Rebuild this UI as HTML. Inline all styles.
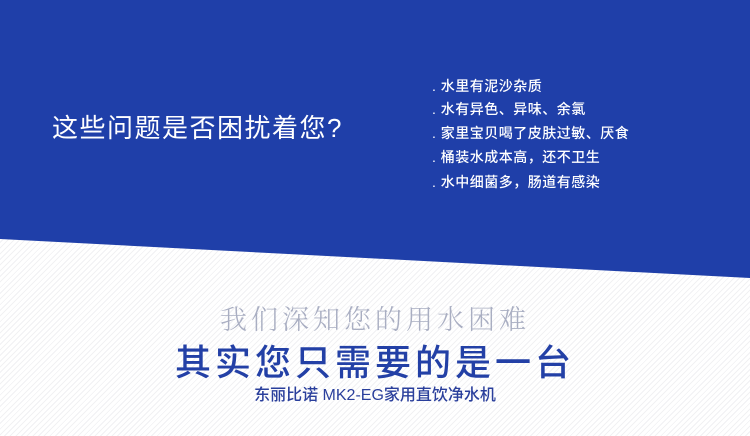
<!DOCTYPE html>
<html><head><meta charset="utf-8">
<style>
html,body{margin:0;padding:0}
body{width:750px;height:436px;position:relative;overflow:hidden;font-family:"Liberation Sans","Noto Sans CJK SC",sans-serif;
background:repeating-linear-gradient(135deg,#ffffff 0 3px,#f1f1f3 3px 4px);}
svg.bg{position:absolute;left:0;top:0}
.t{position:absolute;white-space:nowrap}
#headline{left:52px;top:108px;font-size:26px;color:#fff;letter-spacing:1.5px}
.li{position:absolute;left:432px;font-size:14px;color:#fff;letter-spacing:0.5px;font-weight:500}
.c{left:0;width:750px;text-align:center}
#sub1{top:298px;font-size:27px;color:#a9aec2;letter-spacing:4px;font-weight:300;font-family:"Liberation Serif","Noto Serif CJK SC",serif}
#sub2{top:334px;font-size:36px;color:#2340a6;letter-spacing:4px;font-weight:500}
#sub3{top:381px;font-size:16px;color:#2a3f9c;font-weight:500}
</style></head>
<body>
<svg class="bg" width="750" height="436">
<polygon points="0,0 750,0 750,278 0,239" fill="#1f3fa9"/>
</svg>
<div class="t" id="headline">这些问题是否困扰着您?</div>
<div class="li" style="top:76px">. 水里有泥沙杂质</div>
<div class="li" style="top:99px">. 水有异色、异味、余氯</div>
<div class="li" style="top:123px">. 家里宝贝喝了皮肤过敏、厌食</div>
<div class="li" style="top:147px">. 桶装水成本高，还不卫生</div>
<div class="li" style="top:172px">. 水中细菌多，肠道有感染</div>
<div class="t c" id="sub1">我们深知您的用水困难</div>
<div class="t c" id="sub2">其实您只需要的是一台</div>
<div class="t c" id="sub3">东丽比诺 MK2-EG家用直饮净水机</div>
</body></html>
